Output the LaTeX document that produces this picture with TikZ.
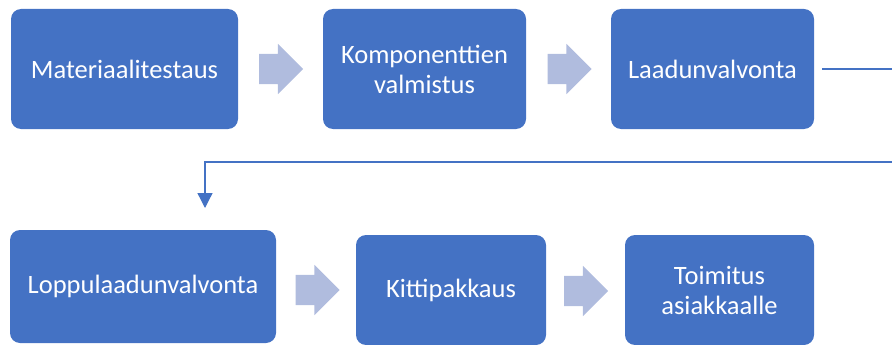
\documentclass[tikz,border=0pt]{standalone}
\usepackage{fontspec}
\setmainfont{Carlito}
\usetikzlibrary{positioning,shapes.arrows,arrows.meta}

\definecolor{boxblue}{RGB}{68,114,196}
\definecolor{arrowblue}{RGB}{176,188,222}

\tikzset{
  stage/.style={draw=none, fill=boxblue, rounded corners=10pt, text=white,
    align=center, font=\fontsize{26.5}{30}\selectfont, inner sep=0pt},
  flowarrow/.style={single arrow, fill=arrowblue, draw=none, inner xsep=0pt,
    inner ysep=15pt, text width=0pt, text height=0pt, text depth=0pt,
    single arrow head extend=10pt, minimum height=44pt},
  link/.style={draw=boxblue, line width=1.3pt}
}

\begin{document}
\begin{tikzpicture}[x=1pt,y=-1pt]

\useasboundingbox (0,0) rectangle (892,345);

\node[stage, minimum width=227pt, minimum height=120pt] (mat) at (124.5,69) {Materiaalitestaus};
\node[stage, minimum width=203pt, minimum height=120pt] (komp) at (424.5,69) {Komponenttien\\valmistus};
\node[stage, minimum width=203pt, minimum height=120pt] (laatu) at (712.5,69) {Laadunvalvonta};

\node[stage, minimum width=266pt, minimum height=113pt] (loppu) at (143,286.5) {Loppulaadunvalvonta};
\node[stage, minimum width=190pt, minimum height=110pt] (kitti) at (451,290) {Kittipakkaus};
\node[stage, minimum width=189pt, minimum height=110pt] (toim) at (719.5,290) {Toimitus\\asiakkaalle};

\node[flowarrow] (a1) at (273.5,69) {};
\node[flowarrow] (a2) at (562,69) {};
\node[flowarrow] (a3) at (310,290) {};
\node[flowarrow] (a4) at (578.5,291) {};

\coordinate (R1) at (892,69);
\coordinate (R2) at (892,162);
\coordinate (L1) at (205,162);
\coordinate (L2) at (205,230);

\draw[link, shorten <=8pt] (laatu.east) -- (R1);
\draw[link, shorten >=22pt, -{Triangle[width=15pt,length=15pt]}] (R2) -- (L1) -- (L2);

\end{tikzpicture}
\end{document}
